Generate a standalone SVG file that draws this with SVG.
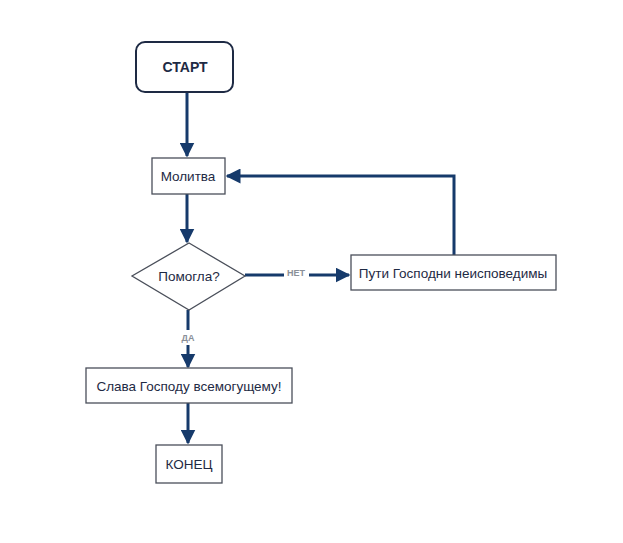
<svg xmlns="http://www.w3.org/2000/svg" width="623" height="543" viewBox="0 0 623 543">
<style>
.box{fill:#fff;stroke:#4a4f5a;stroke-width:1.3}
.start{fill:#fff;stroke:#1e2a44;stroke-width:2}
.t{font-family:"Liberation Sans","DejaVu Sans",sans-serif;font-size:13.5px;fill:#1e2a44;text-anchor:middle;dominant-baseline:central}
.tb{font-weight:bold;font-size:14px}
.lbl{font-family:"Liberation Sans","DejaVu Sans",sans-serif;font-size:9px;font-weight:bold;fill:#8a8f98;text-anchor:middle;dominant-baseline:central}
.c{fill:none;stroke:#163a6b;stroke-width:3}
</style>
<defs>
<marker id="ah" viewBox="0 0 10 10" refX="9" refY="5" markerWidth="5" markerHeight="5" orient="auto" markerUnits="strokeWidth">
<path d="M0,0 L10,5 L0,10 z" fill="#163a6b"/>
</marker>
</defs>
<rect width="623" height="543" fill="#fff"/>
<g id="connectors">
<path class="c" d="M187,92 V156" marker-end="url(#ah)"/>
<path class="c" d="M187,194 V242" marker-end="url(#ah)"/>
<path class="c" d="M245,275 H284"/>
<path class="c" d="M309,275 H349" marker-end="url(#ah)"/>
<path class="c" d="M454,255 V176 H227" marker-end="url(#ah)"/>
<path class="c" d="M188,310 V330"/>
<path class="c" d="M188,345 V367" marker-end="url(#ah)"/>
<path class="c" d="M188,403 V443" marker-end="url(#ah)"/>
<text class="lbl" x="296" y="273">НЕТ</text>
<text class="lbl" x="188" y="338">ДА</text>
</g>
<g id="start">
<rect class="start" x="136" y="42" width="97" height="50" rx="9"/>
<text class="t tb" x="185" y="67">СТАРТ</text>
</g>
<g id="molitva">
<rect class="box" x="152" y="158" width="73" height="36"/>
<text class="t" x="188" y="176">Молитва</text>
</g>
<g id="pomogla">
<polygon class="box" points="189,243 245,276 189,310 132,276"/>
<text class="t" x="189" y="276">Помогла?</text>
</g>
<g id="puti">
<rect class="box" x="351" y="255" width="205" height="35"/>
<text class="t" x="453" y="273">Пути Господни неисповедимы</text>
</g>
<g id="slava">
<rect class="box" x="86" y="368" width="206" height="35"/>
<text class="t" x="189" y="386">Слава Господу всемогущему!</text>
</g>
<g id="konec">
<rect class="box" x="156" y="445" width="66" height="38"/>
<text class="t" x="189" y="464">КОНЕЦ</text>
</g>
</svg>
